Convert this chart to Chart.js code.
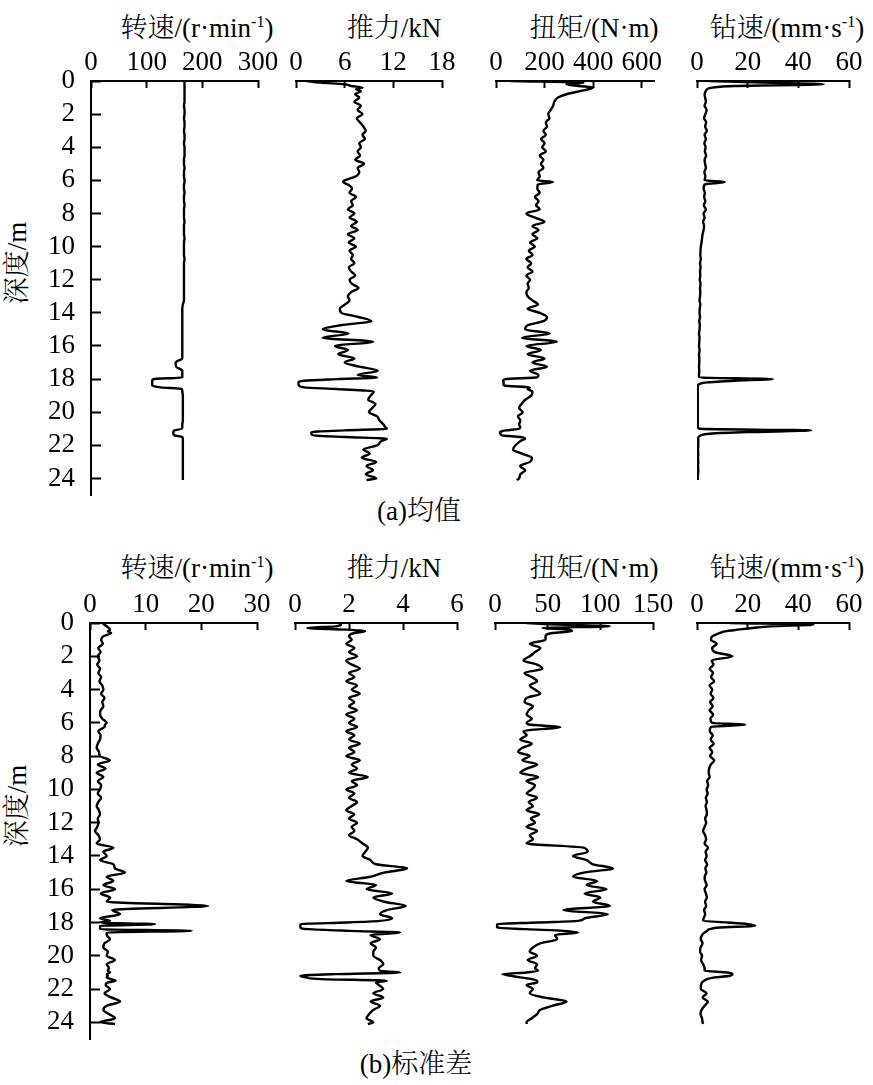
<!DOCTYPE html>
<html>
<head>
<meta charset="utf-8">
<script src="https://cdn.jsdelivr.net/npm/chart.js@4.4.0/dist/chart.umd.min.js"></script>
<style>
  html, body { margin: 0; padding: 0; background: #fff; }
  body { width: 873px; height: 1085px; position: relative; overflow: hidden;
         font-family: "Liberation Serif", "Noto Serif CJK SC", "Noto Sans CJK SC", serif; color: #000; }
  canvas { position: absolute; }
  .t { position: absolute; font-size: 27px; font-weight: 300; line-height: 1; white-space: nowrap; transform: translate(-50%, -50%); }
  .v { transform: translate(-50%, -50%) rotate(-90deg); }
  .sup { font-size: 16px; position: relative; top: -10px; }
</style>
</head>
<body>
<div class="t" style="left:197px;top:28px">转速/(r·min<span class="sup">-1</span>)</div>
<div class="t" style="left:394px;top:28px">推力/kN</div>
<div class="t" style="left:594px;top:28px">扭矩/(N·m)</div>
<div class="t" style="left:787px;top:28px">钻速/(mm·s<span class="sup">-1</span>)</div>
<div class="t v" style="left:17px;top:263px">深度/m</div>
<div class="t" style="left:419px;top:511px">(a)均值</div>

<div class="t" style="left:197px;top:568px">转速/(r·min<span class="sup">-1</span>)</div>
<div class="t" style="left:394px;top:568px">推力/kN</div>
<div class="t" style="left:594px;top:568px">扭矩/(N·m)</div>
<div class="t" style="left:787px;top:568px">钻速/(mm·s<span class="sup">-1</span>)</div>
<div class="t v" style="left:17px;top:806px">深度/m</div>
<div class="t" style="left:416px;top:1064px">(b)标准差</div>

<script>
// depth of each reading, m
const depth = [0, 0.1, 0.2, 0.3, 0.4, 0.5, 0.6, 0.8,
  1, 1.25, 1.5, 1.75, 2, 2.25, 2.5, 2.75, 3, 3.25, 3.5, 3.75, 4, 4.25, 4.5, 4.75,
  5, 5.25, 5.5, 5.75, 6, 6.1, 6.25, 6.5, 6.75, 7, 7.25, 7.5, 7.75, 8, 8.25, 8.5, 8.75,
  9, 9.25, 9.5, 9.75, 10, 10.25, 10.5, 10.75, 11, 11.25, 11.5, 11.75, 12, 12.25, 12.5, 12.75,
  13, 13.25, 13.5, 13.75, 14, 14.25, 14.5, 14.75, 15, 15.25, 15.5, 15.75, 16, 16.25, 16.5, 16.75,
  17, 17.25, 17.5, 17.75,
  17.9, 18, 18.1, 18.2, 18.3, 18.4, 18.5, 18.6, 18.75,
  19, 19.25, 19.5, 19.75, 20, 20.25, 20.5, 20.75,
  20.9, 21, 21.1, 21.2, 21.3, 21.4, 21.5, 21.6, 21.75,
  22, 22.25, 22.5, 22.75, 23, 23.25, 23.5, 23.75, 24, 24.1];

// (a) mean values
const rpmMean = [168, 168, 168, 168, 168, 168, 168, 168,
  168, 168, 167, 168, 168, 167, 168, 168, 167, 168, 168, 167, 168, 168, 168, 167,
  167, 168, 167, 167, 168, 168, 167, 167, 168, 167, 167, 168, 167, 167, 167, 168, 167,
  167, 167, 168, 167, 167, 167, 167, 168, 167, 167, 167, 167, 167, 167, 167, 167,
  167, 167, 165, 164, 164, 164, 164, 164, 164, 164, 164, 164, 164, 164, 164, 164,
  152, 153, 164, 164,
  164, 112, 110, 110, 110, 110, 125, 163, 164,
  165, 165, 165, 165, 165, 165, 165, 164,
  164, 163, 150, 148, 148, 150, 164, 165, 165,
  165, 165, 165, 165, 165, 165, 165, 165, 165, 165];

const thrustMean = [1.3, 3.0, 6.0, 6.8, 8.2, 7.4, 8.0, 7.3,
  7.8, 7.2, 8.0, 7.6, 8.2, 7.5, 7.9, 8.3, 8.6, 8.2, 8.5, 7.8, 8.0, 7.6, 7.9, 7.3,
  8.4, 7.6, 7.8, 7.4, 6.0, 5.8, 6.4, 6.9, 6.6, 7.4, 6.8, 7.0, 6.4, 7.2, 6.6, 7.5, 6.8,
  7.6, 6.4, 7.2, 6.5, 7.4, 6.6, 7.0, 6.8, 7.2, 6.5, 6.8, 7.3, 6.6, 6.9, 7.7, 6.8,
  6.4, 6.6, 6.0, 5.4, 5.6, 7.7, 9.3, 5.5, 3.3, 6.5, 3.3, 9.5, 4.8, 6.4, 5.2, 7.2,
  6.0, 7.8, 10.1, 7.6,
  10.0, 5.0, 1.0, 0.3, 0.3, 0.4, 1.0, 5.0, 9.6,
  9.2, 8.9, 9.8, 9.4, 9.0, 10.0, 10.3, 10.8,
  11.0, 11.2, 6.0, 1.9, 1.9, 2.2, 6.0, 11.2, 10.5,
  10.0, 8.3, 9.1, 8.1, 9.9, 8.7, 9.5, 8.6, 9.9, 8.7];

const torqueMean = [60, 360, 290, 340, 400, 380, 350, 290,
  255, 240, 235, 225, 215, 220, 205, 210, 195, 205, 185, 200, 190, 205, 180, 195,
  185, 195, 175, 180, 170, 235, 172, 170, 180, 160, 175, 165, 180, 125, 160, 200, 150,
  175, 150, 170, 140, 160, 135, 150, 125, 145, 130, 150, 125, 140, 130, 135, 125,
  130, 150, 173, 130, 180, 210, 195, 130, 120, 222, 107, 250, 125, 185, 130, 200,
  150, 210, 140, 175,
  168, 40, 29, 32, 30, 35, 140, 130, 150,
  145, 120, 105, 95, 110, 90, 100, 95,
  100, 95, 40, 16, 18, 25, 100, 120, 100,
  80, 70, 107, 148, 140, 99, 120, 100, 95, 86];

const ropMean = [5, 26, 50, 15, 6, 4, 3.5, 3,
  3.2, 3.5, 3, 3.8, 3.3, 2.8, 3.6, 3.2, 3.9, 3, 3.5, 2.9, 3.4, 3.1, 3.6, 3,
  3.2, 3.5, 2.9, 3.3, 3.0, 11, 3.0, 2.6, 3.1, 2.8, 3.3, 2.7, 3.5, 2.6, 3.0, 2.4, 2.8,
  2.6, 2.2, 2.0, 1.8, 1.5, 1.4, 1.3, 1.5, 1.2, 1.4, 1.2, 1.3, 1.1, 1.4, 1.2, 1.3,
  1.2, 1.0, 1.3, 1.1, 1.0, 1.2, 0.9, 1.1, 1.0, 0.8, 1.0, 0.9, 0.8, 1.0, 0.8, 0.9,
  0.9, 0.8, 0.9, 0.8,
  0.8, 30, 15, 4, 1.0, 0.3, 0.3, 0.3, 0.3,
  0.3, 0.3, 0.3, 0.3, 0.3, 0.3, 0.3, 0.3,
  0.3, 1, 45, 20, 5, 1.5, 0.6, 0.5, 0.5,
  0.5, 0.4, 0.5, 0.4, 0.5, 0.4, 0.5, 0.4, 0.3, 0.3];

// (b) standard deviations
const rpmStd = [2.2, 2.6, 3.0, 3.4, 3.6, 3.2, 3.8, 2.4,
  2.0, 2.3, 1.5, 1.9, 1.4, 1.7, 1.3, 1.8, 1.5, 2.0, 1.7, 2.2, 2.4, 2.0, 2.6, 2.2,
  2.4, 1.9, 1.8, 2.2, 3.0, 2.7, 2.6, 1.5, 1.9, 1.8, 1.4, 1.2, 1.6, 1.8, 3.6, 1.4, 2.8,
  1.2, 2.4, 1.4, 2.0, 1.8, 1.4, 2.0, 1.5, 1.2, 1.6, 1.8, 1.4, 1.5, 1.3, 0.9, 1.5,
  1.8, 1.2, 4.2, 2.4, 3.0, 1.8, 4.2, 4.5, 6.3, 3.0, 4.2, 2.4, 4.5, 1.9, 3.6, 3.0,
  21.2, 4.0, 5.4, 1.8,
  3.6, 1.8, 11.7, 1.8, 1.8, 1.8, 18.3, 3.0, 3.0,
  3.6, 2.6, 2.4, 3.2, 3.0, 4.5, 3.0, 3.4,
  3.2, 3.6, 3.0, 3.2, 3.0, 3.8, 4.6, 3.2, 2.8,
  3.6, 2.6, 3.8, 5.4, 3.0, 2.4, 3.4, 4.5, 1.8, 4.5];

const thrustStd = [1.6, 1.7, 1.5, 0.45, 1.9, 2.6, 2.2, 2.0,
  2.1, 1.9, 2.2, 2.0, 2.3, 1.9, 2.1, 2.4, 2.0, 2.2, 1.9, 2.3, 2.1, 2.4, 2.0, 2.2,
  2.0, 2.3, 1.9, 2.2, 2.0, 2.1, 2.3, 1.9, 2.2, 2.0, 2.4, 2.0, 2.2, 1.9, 2.4, 2.1, 2.3,
  2.0, 2.7, 2.1, 2.3, 1.9, 2.2, 2.0, 2.3, 2.1, 1.9, 2.2, 2.0, 2.3, 2.1, 2.2, 2.0,
  2.3, 2.5, 2.7, 2.6, 2.5, 2.8, 3.0, 4.15, 3.3, 2.8, 1.9, 3.0, 2.65, 3.6, 2.9, 3.3,
  4.1, 3.4, 3.15, 3.6,
  3.15, 1.9, 0.2, 0.2, 0.2, 0.5, 2.0, 3.9, 2.8,
  3.15, 2.8, 3.0, 2.9, 2.9, 3.15, 3.27, 3.1,
  3.15, 3.9, 1.5, 0.2, 0.4, 1.0, 3.4, 3.0, 3.1,
  3.27, 2.9, 3.27, 2.8, 3.15, 2.9, 2.75, 2.65, 2.9, 2.7];

const torqueStd = [30, 60, 109, 45, 70, 73, 55, 48,
  48, 33, 43, 38, 33, 27, 40, 45, 28, 35, 40, 33, 38, 43, 30, 28,
  36, 32, 30, 35, 30, 32, 62, 27, 30, 24, 35, 26, 22, 33, 26, 40, 30,
  24, 41, 30, 38, 35, 30, 40, 32, 36, 30, 42, 34, 38, 30, 40, 33,
  36, 30, 84, 88, 74, 87, 93, 112, 84, 74, 97, 87, 106, 85, 100, 93,
  109, 65, 107, 85,
  79, 40, 2, 2, 2, 30, 65, 79, 57,
  59, 43, 36, 33, 40, 31, 40, 38,
  41, 30, 7, 15, 24, 35, 40, 40, 30,
  36, 33, 46, 68, 55, 43, 40, 35, 30, 30];

const ropStd = [13, 46, 29, 22, 16, 11, 9, 6,
  5.5, 7.8, 6.0, 7.0, 14, 5.8, 6.5, 5.0, 6.3, 5.5, 6.8, 5.0, 6.0, 5.4, 6.5, 5.2,
  6.2, 5.0, 6.4, 5.3, 6.0, 19, 5.5, 5.0, 6.2, 5.4, 6.6, 5.0, 6.0, 5.2, 6.8, 5.5, 4.8,
  4.6, 5.0, 4.0, 4.4, 3.8, 4.2, 3.5, 3.9, 3.4, 3.8, 3.9, 3.2, 3.6, 3.0, 2.4, 3.2,
  3.6, 3.0, 4.3, 3.4, 3.8, 3.2, 4.0, 3.3, 3.7, 3.0, 3.2, 3.8, 3.0, 3.5, 3.9, 3.2,
  3.6, 2.8, 3.2, 2.6,
  2.4, 12, 20, 23, 9, 5, 4.0, 3.0, 2.0,
  1.5, 2.2, 1.4, 1.2, 2.0, 1.6, 2.4, 3.0,
  3.0, 12, 14, 13, 7, 4, 2.8, 2.0, 1.6,
  1.5, 3.8, 2.2, 4.3, 3.0, 1.8, 1.4, 2.0, 2.2, 2.4];

// axis ranges / tick steps per row
const axisMax = [[300, 18, 650, 60], [30, 6, 150, 60]];
const axisStep = [[100, 6, 200, 20], [10, 2, 50, 20]];
const depthMax = 25;
const series = [[rpmMean, thrustMean, torqueMean, ropMean], [rpmStd, thrustStd, torqueStd, ropStd]];

// layout (pixels)
const rowTop = [81, 623];
const rowHeight = [414, 416];
const panelLeft = [[91, 296, 496, 697], [90, 295, 495, 697]];
const panelWidth = [[167, 146, 158, 152], [167, 162, 158, 152]];

const XH = 50, PAD = 30, PB = 50;
const tickFont = { family: 'Liberation Serif', size: 27 };

function makePanel(r, i) {
  const first = i === 0;
  const left = panelLeft[r][i], w = panelWidth[r][i];
  const cv = document.createElement('canvas');
  cv.width = first ? left + w + PAD : w + 2 * PAD;
  cv.height = XH + rowHeight[r] + PB;
  cv.style.left = (first ? 0 : left - PAD) + 'px';
  cv.style.top = (rowTop[r] - XH) + 'px';
  document.body.appendChild(cv);

  const vals = series[r][i];
  new Chart(cv, {
    type: 'line',
    data: {
      datasets: [{
        data: depth.map((d, k) => ({ x: vals[k], y: d })),
        borderColor: '#000',
        borderWidth: 2.4,
        pointRadius: 0,
        cubicInterpolationMode: 'monotone'
      }]
    },
    options: {
      responsive: false,
      animation: false,
      indexAxis: 'y',
      layout: { padding: { left: first ? 0 : PAD, right: PAD, top: 0, bottom: PB } },
      plugins: { legend: { display: false }, tooltip: { enabled: false } },
      scales: {
        x: {
          type: 'linear', position: 'top', min: 0, max: axisMax[r][i],
          ticks: { stepSize: axisStep[r][i], includeBounds: false, padding: 9, color: '#000',
                   font: tickFont, maxRotation: 0, minRotation: 0, autoSkip: false },
          grid: { drawOnChartArea: false, tickLength: -7, tickWidth: 2, color: '#000' },
          border: { color: '#000', width: 2 },
          afterFit: s => { s.height = XH; }
        },
        y: {
          type: 'linear', reverse: true, min: 0, max: depthMax, display: first,
          ticks: { stepSize: 2, includeBounds: false, padding: 26, color: '#000',
                   font: tickFont, autoSkip: false },
          grid: { drawOnChartArea: false, tickLength: -10, tickWidth: 2, color: '#000' },
          border: { color: '#000', width: 2 },
          afterFit: s => { if (first) s.width = left; }
        }
      }
    }
  });
}

for (let r = 0; r < 2; r++) {
  for (let i = 0; i < 4; i++) makePanel(r, i);
}
</script>
</body>
</html>
